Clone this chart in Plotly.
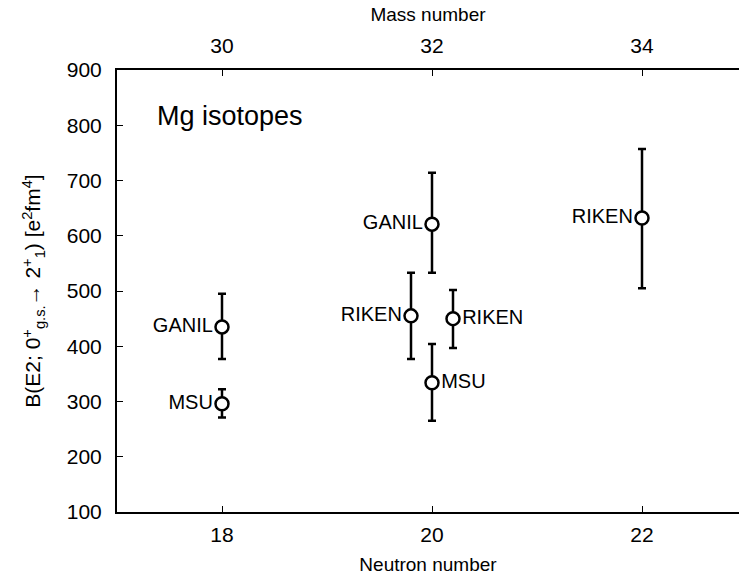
import plotly.graph_objects as go

# Data
neutron = [18, 18, 19.8, 20, 20, 20.2, 22]
be2 = [435, 296, 455, 621, 334, 450, 632]
err_plus = [60, 26, 78, 93, 70, 52, 125]
err_minus = [58, 25, 78, 88, 69, 53, 127]
labels = ["GANIL", "MSU", "RIKEN", "GANIL", "MSU", "RIKEN", "RIKEN"]
label_side = ["left", "left", "left", "left", "right", "right", "left"]

x_ticks = [18, 20, 22]
mass_ticks = [30, 32, 34]
y_ticks = [100, 200, 300, 400, 500, 600, 700, 800, 900]

FONT = "Liberation Sans, Arial, sans-serif"

fig = go.Figure()

for side in ["left", "right"]:
    idx = [i for i, s in enumerate(label_side) if s == side]
    fig.add_trace(go.Scatter(
        x=[neutron[i] for i in idx],
        y=[be2[i] for i in idx],
        mode="markers+text",
        text=[labels[i] for i in idx],
        textposition="middle " + side,
        textfont=dict(family=FONT, size=20, color="black"),
        marker=dict(symbol="circle", size=13, color="white",
                    line=dict(color="black", width=2.5)),
        error_y=dict(type="data", symmetric=False,
                     array=[err_plus[i] for i in idx],
                     arrayminus=[err_minus[i] for i in idx],
                     color="black", thickness=2.5, width=4),
        showlegend=False,
        cliponaxis=False,
    ))

# dummy trace for top axis
fig.add_trace(go.Scatter(x=[m for m in mass_ticks], y=[None] * len(mass_ticks),
                         xaxis="x2", showlegend=False, hoverinfo="skip"))

xr = [17, 17 + (739 - 117) / 105]
fig.update_layout(
    width=739, height=580,
    margin=dict(l=117, r=0, t=70, b=68),
    paper_bgcolor="white", plot_bgcolor="white",
    font=dict(family=FONT, size=20, color="black"),
    xaxis=dict(range=xr, tickvals=x_ticks, ticks="inside", ticklen=6,
               tickwidth=1, tickcolor="black",
               showline=True, linecolor="black", linewidth=2,
               showgrid=False, zeroline=False,
               tickfont=dict(size=21),
               ticklabelstandoff=3,
               title=dict(text="Neutron number", font=dict(size=19), standoff=12)),
    xaxis2=dict(range=[xr[0] + 12, xr[1] + 12], tickvals=mass_ticks,
                overlaying="x", side="top", ticks="inside", ticklen=6,
                tickwidth=1, tickcolor="black",
                showline=True, linecolor="black", linewidth=2,
                showgrid=False, zeroline=False,
                tickfont=dict(size=21),
                ticklabelstandoff=7,
                title=dict(text="Mass number", font=dict(size=19), standoff=7)),
    yaxis=dict(range=[100, 900], tickvals=y_ticks, ticks="inside", ticklen=6,
               tickwidth=1, tickcolor="black",
               showline=True, linecolor="black", linewidth=2,
               showgrid=False, zeroline=False,
               tickfont=dict(size=21),
               ticklabelstandoff=9,
               title=dict(text="B(E2; 0<sup>+</sup><sub>g.s.</sub>\u2192 2<sup>+</sup><sub>1</sub>) [e<sup>2</sup>fm<sup>4</sup>]",
                          font=dict(size=21), standoff=20)),
    annotations=[dict(text="Mg isotopes",
                      x=(155 - 117) / (739 - 117), y=1 - (116 - 70) / (512 - 70),
                      xref="paper", yref="paper", xanchor="left", yanchor="middle",
                      showarrow=False, font=dict(size=27, family=FONT))],
)

fig.write_html("out.html")
